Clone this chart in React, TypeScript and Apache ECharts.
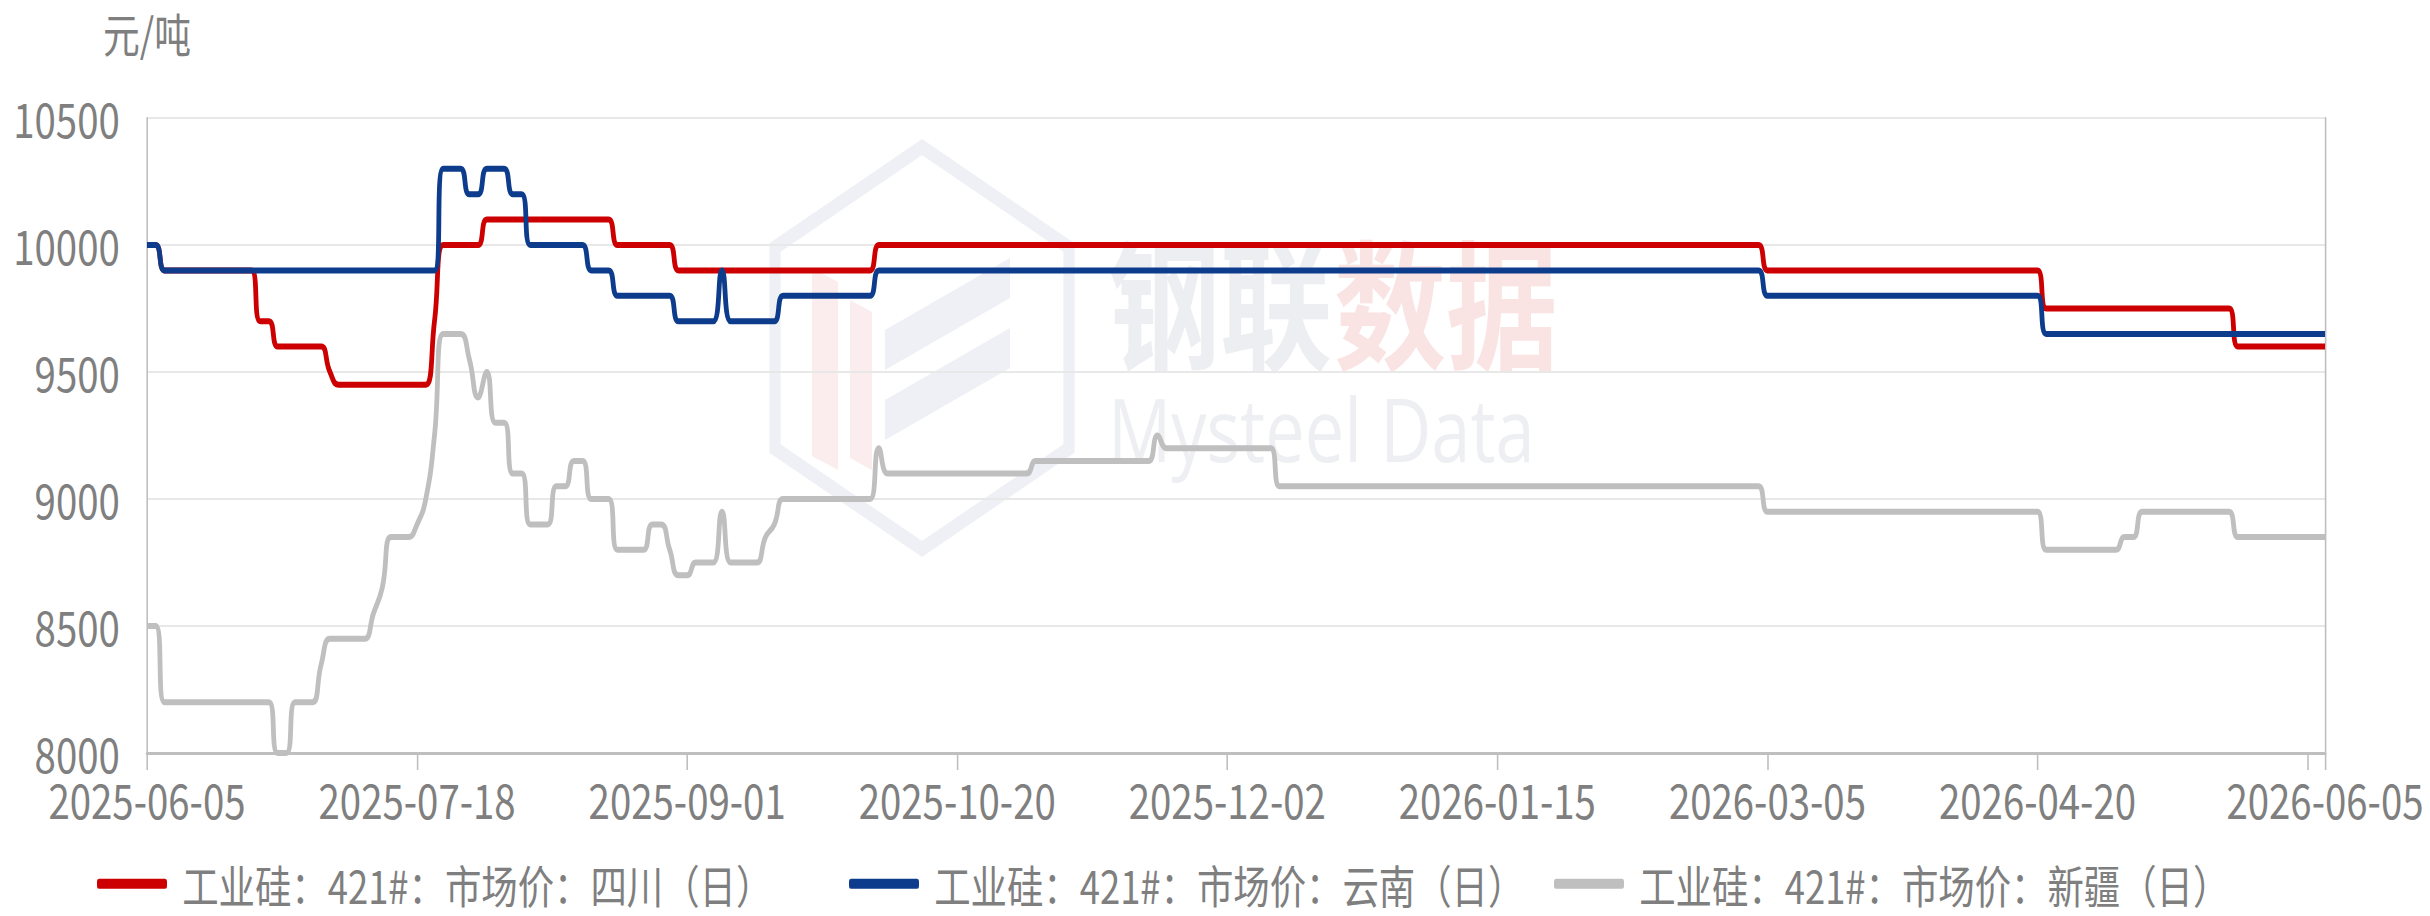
import React, { useEffect, useRef } from "react";
import * as echarts from "echarts";

// ---------- data ----------
const START_DATE = "2025-06-05";
const END_DATE = "2026-06-05";
const HOLIDAYS = [
  "2025-10-01", "2025-10-02", "2025-10-03", "2025-10-06", "2025-10-07", "2025-10-08",
  "2026-01-01", "2026-01-02",
  "2026-02-16", "2026-02-17", "2026-02-18", "2026-02-19", "2026-02-20", "2026-02-23",
  "2026-04-06", "2026-05-01", "2026-05-04",
];
const MAKEUP_DAYS = ["2025-09-28", "2025-10-11", "2026-01-04", "2026-02-14", "2026-02-28", "2026-05-09"];
const TICK_LABELS = [
  "2025-06-05", "2025-07-18", "2025-09-01", "2025-10-20", "2025-12-02",
  "2026-01-15", "2026-03-05", "2026-04-20", "2026-06-05",
];

const SERIES_NAMES = [
  "工业硅：421#：市场价：四川（日）",
  "工业硅：421#：市场价：云南（日）",
  "工业硅：421#：市场价：新疆（日）",
];

// price changes: [date from which the price holds, price 元/吨]
const SICHUAN: [string, number][] = [
  ["2025-06-05", 10000], ["2025-06-09", 9900], ["2025-06-24", 9700], ["2025-06-26", 9600],
  ["2025-07-04", 9500], ["2025-07-07", 9450], ["2025-07-22", 9700], ["2025-07-23", 10000],
  ["2025-07-30", 10100], ["2025-08-20", 10000], ["2025-08-29", 9900], ["2025-09-30", 10000],
  ["2026-03-05", 9900], ["2026-04-21", 9750], ["2026-05-22", 9600],
];
const YUNNAN: [string, number][] = [
  ["2025-06-05", 10000], ["2025-06-09", 9900], ["2025-07-23", 10300], ["2025-07-28", 10200],
  ["2025-07-30", 10300], ["2025-08-04", 10200], ["2025-08-06", 10000], ["2025-08-15", 9900],
  ["2025-08-20", 9800], ["2025-08-29", 9700], ["2025-09-05", 9900], ["2025-09-08", 9700],
  ["2025-09-16", 9800], ["2025-09-30", 9900], ["2026-03-05", 9800], ["2026-04-21", 9650],
];
const XINJIANG: [string, number][] = [
  ["2025-06-05", 8500], ["2025-06-09", 8200], ["2025-06-26", 8000], ["2025-06-30", 8200],
  ["2025-07-03", 8350], ["2025-07-04", 8450], ["2025-07-11", 8550], ["2025-07-14", 8650],
  ["2025-07-15", 8850], ["2025-07-18", 8900], ["2025-07-21", 9000], ["2025-07-22", 9250],
  ["2025-07-23", 9650], ["2025-07-28", 9550], ["2025-07-29", 9400], ["2025-07-30", 9500],
  ["2025-07-31", 9300], ["2025-08-04", 9100], ["2025-08-06", 8900], ["2025-08-11", 9050],
  ["2025-08-13", 9150], ["2025-08-15", 9000], ["2025-08-20", 8800], ["2025-08-26", 8900],
  ["2025-08-28", 8800], ["2025-08-29", 8700], ["2025-09-02", 8750], ["2025-09-05", 8950],
  ["2025-09-08", 8750], ["2025-09-12", 8850], ["2025-09-15", 8900], ["2025-09-16", 9000],
  ["2025-09-30", 9200], ["2025-10-09", 9100], ["2025-10-31", 9150], ["2025-11-20", 9250],
  ["2025-11-21", 9200], ["2025-12-10", 9050], ["2026-03-05", 8950], ["2026-04-21", 8800],
  ["2026-05-06", 8850], ["2026-05-08", 8950], ["2026-05-22", 8850],
];

const Y_MIN = 8000;
const Y_MAX = 10500;
const Y_STEP = 500;

// ---------- helpers ----------
function buildTradingDays(start: string, end: string, holidays: string[], makeups: string[]): string[] {
  const hol = new Set(holidays);
  const mk = new Set(makeups);
  const [sy, sm, sd] = start.split("-").map(Number);
  const [ey, em, ed] = end.split("-").map(Number);
  let t = Date.UTC(sy, sm - 1, sd);
  const endT = Date.UTC(ey, em - 1, ed);
  const out: string[] = [];
  while (t <= endT) {
    const d = new Date(t);
    const s = d.toISOString().slice(0, 10);
    const wd = d.getUTCDay();
    const weekend = wd === 0 || wd === 6;
    if ((!weekend && !hol.has(s)) || mk.has(s)) out.push(s);
    t += 86400000;
  }
  return out;
}

const DATES = buildTradingDays(START_DATE, END_DATE, HOLIDAYS, MAKEUP_DAYS);

function holdPrices(runs: [string, number][]): number[] {
  return DATES.map((d) => {
    let v = runs[0][1];
    for (const [s, val] of runs) {
      if (s <= d) v = val;
      else break;
    }
    return v;
  });
}

// ---------- layout ----------
const W = 2430;
const H = 916;
const SX = 0.8; // horizontal condensation of the reference rendering
const W0 = W / SX;
const X = (v: number) => v / SX;
const FONT = '"Noto Sans CJK SC", "Noto Sans", sans-serif';

const COLORS = ["#CC0000", "#0E3C8C", "#BFBFBF"];
const LEGEND_LEFTS = [93, 845, 1550];

export default function App() {
  const ref = useRef<HTMLDivElement>(null);

  useEffect(() => {
    document.body.style.margin = "0";
    const chart = echarts.init(ref.current!, undefined, { renderer: "svg", width: W0, height: H });
    const last = DATES.length - 1;

    const cx = 922, cy = 348, hw = 147, hh = 201;
    const hex = [
      [cx, cy - hh], [cx + hw, cy - hh / 2], [cx + hw, cy + hh / 2],
      [cx, cy + hh], [cx - hw, cy + hh / 2], [cx - hw, cy - hh / 2],
    ].map(([x, y]) => [X(x), y]);

    const legends = SERIES_NAMES.map((name, i) => ({
      left: X(LEGEND_LEFTS[i]),
      top: 856,
      icon: "roundRect",
      itemWidth: X(70),
      itemHeight: 10,
      data: [name],
      textStyle: { fontFamily: FONT, fontSize: 45.5, color: "#7F7F7F", padding: [0, 0, 0, 14] },
    }));

    const option: any = {
      animation: false,
      backgroundColor: "#ffffff",
      textStyle: { fontFamily: FONT },
      grid: { left: X(147), right: X(W - 2325), top: 118, bottom: H - 753, containLabel: false },
      legend: legends,
      graphic: [
        {
          type: "polygon", silent: true, z: 0,
          shape: { points: hex },
          style: { fill: "none", stroke: "#EEF0F5", lineWidth: 14 },
        },
        {
          type: "polygon", silent: true, z: 0,
          shape: { points: [[X(812), 268], [X(838), 282], [X(838), 470], [X(812), 456]] },
          style: { fill: "#FBEDED" },
        },
        {
          type: "polygon", silent: true, z: 0,
          shape: { points: [[X(850), 300], [X(872), 312], [X(872), 470], [X(850), 458]] },
          style: { fill: "#FBEDED" },
        },
        {
          type: "polygon", silent: true, z: 0,
          shape: { points: [[X(885), 330], [X(1010), 258], [X(1010), 298], [X(885), 370]] },
          style: { fill: "#EEF0F5" },
        },
        {
          type: "polygon", silent: true, z: 0,
          shape: { points: [[X(885), 400], [X(1010), 328], [X(1010), 368], [X(885), 440]] },
          style: { fill: "#EEF0F5" },
        },
        {
          type: "text", silent: true, z: 0,
          x: X(1108), y: 298,
          style: {
            text: "钢联",
            fontSize: 140, fontWeight: "bold", fill: "#EDEEF2", fontFamily: FONT,
            lineHeight: 124, verticalAlign: "middle", align: "left",
          },
        },
        {
          type: "text", silent: true, z: 0,
          x: X(1108 + 226), y: 298,
          style: {
            text: "数据",
            fontSize: 140, fontWeight: "bold", fill: "#F9E3E3", fontFamily: FONT,
            lineHeight: 124, verticalAlign: "middle", align: "left",
          },
        },
        {
          type: "text", silent: true, z: 0,
          x: X(1108), y: 428,
          style: {
            text: "Mysteel Data",
            fontSize: 88,
            lineHeight: 70,
            fontFamily: '"Open Sans", "Noto Sans", sans-serif',
            fill: "#EEEFF2",
            verticalAlign: "middle",
            align: "left",
          },
        },
      ],
      xAxis: {
        type: "category",
        boundaryGap: false,
        data: DATES,
        axisLine: { show: true, lineStyle: { color: "#BFBFBF", width: 3 } },
        axisTick: {
          show: true,
          length: 17,
          interval: (i: number) => i % 31 === 0 || i === last,
          lineStyle: { color: "#BFBFBF", width: 2 },
        },
        axisLabel: {
          interval: (_i: number, v: string) => TICK_LABELS.includes(v),
          fontSize: 48,
          lineHeight: 42,
          color: "#7F7F7F",
          margin: 25,
          fontFamily: FONT,
        },
        splitLine: { show: false },
      },
      yAxis: [
        {
          type: "value",
          min: Y_MIN,
          max: Y_MAX,
          interval: Y_STEP,
          name: "元/吨",
          nameLocation: "end",
          nameGap: 63,
          nameTextStyle: { fontSize: 46, lineHeight: 46, color: "#7F7F7F", fontFamily: FONT },
          axisLine: { show: true, lineStyle: { color: "#BFBFBF", width: 2 } },
          axisTick: { show: false },
          axisLabel: {
            fontSize: 48, lineHeight: 40, color: "#7F7F7F", margin: 34, fontFamily: FONT,
            formatter: (v: number) => String(v),
          },
          splitLine: { show: true, lineStyle: { color: "#E8E8E8", width: 2 } },
        },
        {
          type: "value",
          position: "right",
          min: Y_MIN,
          max: Y_MAX,
          interval: Y_STEP,
          axisLine: { show: true, lineStyle: { color: "#BFBFBF", width: 2 } },
          axisTick: { show: false },
          axisLabel: { show: false },
          splitLine: { show: false },
        },
      ],
      series: [
        { name: SERIES_NAMES[0], data: holdPrices(SICHUAN), color: COLORS[0] },
        { name: SERIES_NAMES[1], data: holdPrices(YUNNAN), color: COLORS[1] },
        { name: SERIES_NAMES[2], data: holdPrices(XINJIANG), color: COLORS[2] },
      ].map((s) => ({
        ...s,
        type: "line",
        yAxisIndex: 0,
        smooth: true,
        showSymbol: false,
        symbol: "none",
        z: 3,
        lineStyle: { width: 6, color: s.color },
        itemStyle: { color: s.color },
      })),
    };

    chart.setOption(option);
    return () => chart.dispose();
  }, []);

  return (
    <div style={{ position: "fixed", left: 0, top: 0, width: W, height: H, overflow: "hidden", background: "#fff" }}>
      <div
        ref={ref}
        style={{
          position: "absolute",
          left: 0,
          top: 0,
          width: W0,
          height: H,
          transform: `scaleX(${SX})`,
          transformOrigin: "0 0",
        }}
      />
    </div>
  );
}
